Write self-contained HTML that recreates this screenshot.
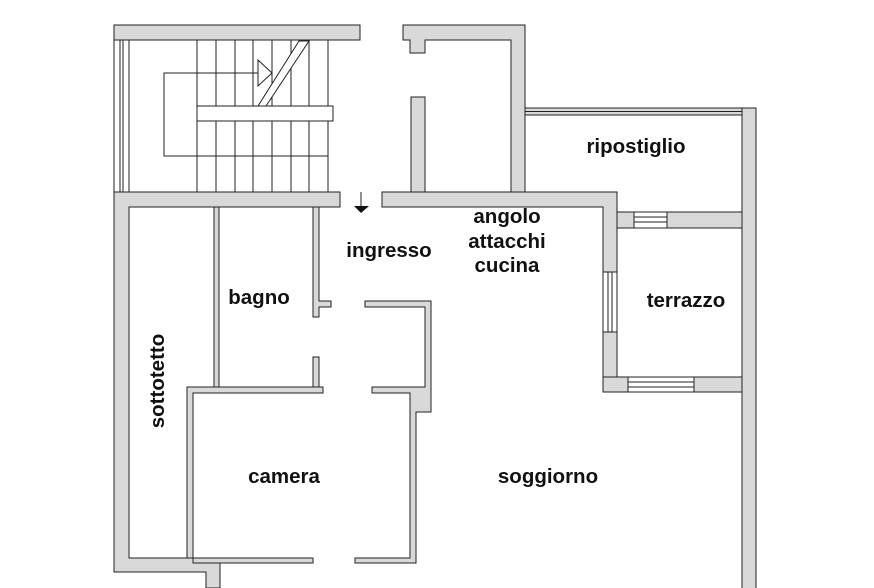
<!DOCTYPE html>
<html><head><meta charset="utf-8"><style>
html,body{margin:0;padding:0;background:#fff;}
svg{display:block;}
text{font-family:"Liberation Sans",sans-serif;font-weight:bold;font-size:20.5px;fill:#111;text-anchor:middle;}
</style></head><body>
<svg width="874" height="588" viewBox="0 0 874 588" xmlns="http://www.w3.org/2000/svg">
<g fill="#d9d9d9" stroke="#222" stroke-width="1">
<rect x="114" y="25" width="246" height="15"/>
<rect x="114" y="40" width="15" height="152" fill="#fff"/>
<polygon points="403,25 525,25 525,192 511,192 511,40 425,40 425,53 410,53 410,40 403,40"/>
<rect x="411" y="97" width="14" height="95"/>
<polygon points="114,192 340,192 340,207 129,207 129,558 220,558 220,588 206,588 206,572 114,572"/>
<polygon points="382,192 617,192 617,392 603,392 603,207 382,207"/>
<rect x="525" y="108" width="217" height="7" fill="#d9d9d9"/>
<line x1="525" y1="111.5" x2="742" y2="111.5"/>
<rect x="742" y="108" width="14" height="490"/>
<rect x="617" y="212" width="125" height="16"/>
<rect x="603" y="377" width="139" height="15"/>
<rect x="214" y="207" width="5" height="180"/>
<polygon points="187,387 323,387 323,393 193,393 193,558 187,558"/>
<rect x="193" y="558" width="120" height="5"/>
<polygon points="313,207 319,207 319,301 331,301 331,307 319,307 319,317 313,317"/>
<rect x="313" y="357" width="6" height="30"/>
<polygon points="365,301 431,301 431,412 416,412 416,563 355,563 355,558 410,558 410,393 372,393 372,387 425,387 425,307 365,307"/>
</g>
<g fill="#fff" stroke="#222" stroke-width="1">
<rect x="634" y="212" width="33" height="16"/>
<line x1="634" y1="217" x2="667" y2="217"/><line x1="634" y1="222" x2="667" y2="222"/>
<rect x="628" y="377" width="66" height="15"/>
<line x1="628" y1="382" x2="694" y2="382"/><line x1="628" y1="387" x2="694" y2="387"/>
<rect x="603" y="272" width="14" height="60"/>
<line x1="608" y1="272" x2="608" y2="332"/><line x1="612" y1="272" x2="612" y2="332"/>
</g>
<g stroke="#222" stroke-width="1" fill="none">
<line x1="120" y1="40" x2="120" y2="192"/><line x1="123" y1="40" x2="123" y2="192"/><line x1="129" y1="40" x2="129" y2="192"/>
<line x1="197" y1="40" x2="197" y2="192"/><line x1="216" y1="40" x2="216" y2="192"/>
<line x1="235" y1="40" x2="235" y2="192"/><line x1="253" y1="40" x2="253" y2="192"/>
<line x1="272" y1="40" x2="272" y2="192"/><line x1="291" y1="40" x2="291" y2="192"/>
<line x1="309" y1="40" x2="309" y2="192"/><line x1="328" y1="40" x2="328" y2="192"/>
<polyline points="272,73 164,73 164,156 328,156"/>
<polygon points="258,60 272,73 258,86" fill="#fff"/>
<polygon points="258,106 299,41 309,41 266,106" fill="#fff"/>
<rect x="197" y="106" width="136" height="15" fill="#fff"/>
<line x1="361" y1="192" x2="361" y2="206"/>
</g>
<polygon points="354,206 369,206 361,213" fill="#111"/>
<text x="636" y="153">ripostiglio</text>
<text x="507" y="223">angolo</text>
<text x="507" y="248">attacchi</text>
<text x="507" y="272">cucina</text>
<text x="389" y="257">ingresso</text>
<text x="259" y="304">bagno</text>
<text x="686" y="307">terrazzo</text>
<text x="284" y="483">camera</text>
<text x="548" y="483">soggiorno</text>
<text x="0" y="0" transform="translate(164,381) rotate(-90)">sottotetto</text>
</svg>
</body></html>
